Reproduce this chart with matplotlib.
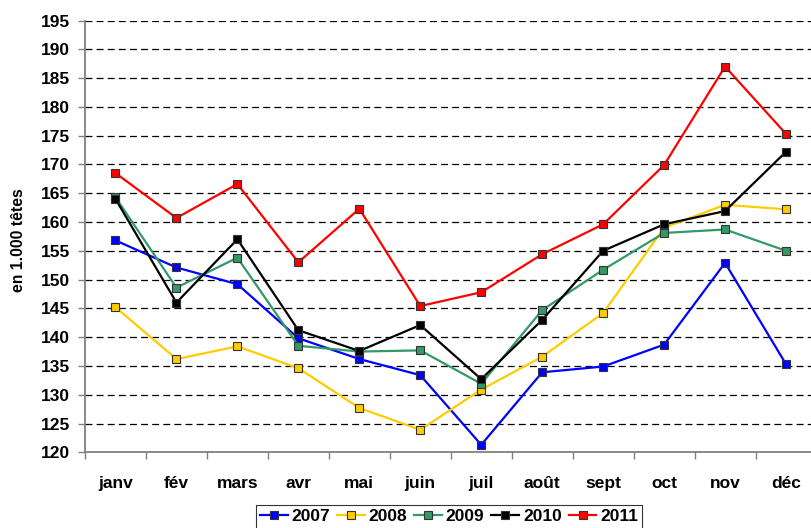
import matplotlib
matplotlib.use("Agg")
import matplotlib.pyplot as plt
from matplotlib.ticker import FixedLocator, NullFormatter

plt.rcParams['font.family'] = ['Liberation Sans', 'DejaVu Sans']
plt.rcParams['font.weight'] = 'bold'
plt.rcParams['lines.scale_dashes'] = False

months = ["janv", "fév", "mars", "avr", "mai", "juin", "juil", "août", "sept", "oct", "nov", "déc"]
years = ["2007", "2008", "2009", "2010", "2011"]
v2007 = [156.8, 152.1, 149.2, 139.8, 136.2, 133.4, 121.3, 133.9, 134.9, 138.7, 152.9, 135.3]
v2008 = [145.2, 136.2, 138.4, 134.6, 127.7, 123.9, 130.9, 136.6, 144.2, 159.0, 163.0, 162.2]
v2009 = [164.3, 148.6, 153.8, 138.5, 137.5, 137.7, 131.9, 144.7, 151.7, 158.1, 158.7, 155.0]
v2010 = [164.0, 146.0, 157.0, 141.2, 137.6, 142.1, 132.7, 143.0, 155.0, 159.6, 161.9, 172.2]
v2011 = [168.5, 160.7, 166.6, 153.0, 162.3, 145.4, 147.8, 154.4, 159.6, 169.9, 187.0, 175.3]
series = [v2007, v2008, v2009, v2010, v2011]
colors = ["#0000FF", "#FFCC00", "#339966", "#000000", "#FF0000"]
yticks = list(range(120, 196, 5))

fig = plt.figure(figsize=(8.12, 5.28), dpi=100)
ax = fig.add_axes([85 / 812, 1 - 452.3 / 528, (816.5 - 85) / 812, (452.3 - 20.5) / 528])

x = list(range(len(months)))
for vals, col, lab in zip(series, colors, years):
    ax.plot(x, vals, color=col, lw=1.6, marker='s', ms=5.6, mfc=col,
            mec='#333333', mew=0.8, label=lab, zorder=3)

ax.set_ylim(120, 195)
ax.set_xlim(-0.5, 11.5)
ax.set_yticks(yticks)
ax.set_yticklabels([str(t) for t in yticks], fontsize=12.5, fontweight='bold')
ax.set_xticks(x)
ax.set_xticklabels(months, fontsize=12.5, fontweight='bold')
ax.xaxis.set_minor_locator(FixedLocator([i + 0.5 for i in range(-1, 12)]))
ax.xaxis.set_minor_formatter(NullFormatter())
ax.tick_params(axis='x', which='major', length=0, pad=17)
ax.tick_params(axis='x', which='minor', length=5, width=1, color='#808080', direction='out')
ax.tick_params(axis='y', length=5, width=1, color='#808080', direction='out', pad=6)

for t in yticks[1:]:
    ax.axhline(t, color='#000000', lw=0.9, linestyle=(0, (5, 3)), zorder=1)

for s in ['top', 'right']:
    ax.spines[s].set_visible(False)
for s in ['left', 'bottom']:
    ax.spines[s].set_color('#808080')
    ax.spines[s].set_linewidth(1.3)

fig.text(19 / 812, 1 - 240 / 528, "en 1.000 têtes", rotation=90, ha='center', va='center',
         fontsize=11.3, fontweight='bold')

leg = fig.legend(loc='upper center', bbox_to_anchor=(449 / 812, 1 - 505 / 528), ncol=5,
                 frameon=True, fancybox=False, fontsize=12.5, handlelength=1.6,
                 handletextpad=0.22, columnspacing=0.4, borderpad=0.25, borderaxespad=0)
leg.get_frame().set_edgecolor('#000000')
leg.get_frame().set_linewidth(0.8)
for t in leg.get_texts():
    t.set_fontweight('bold')

fig.savefig("out.png", dpi=100)
